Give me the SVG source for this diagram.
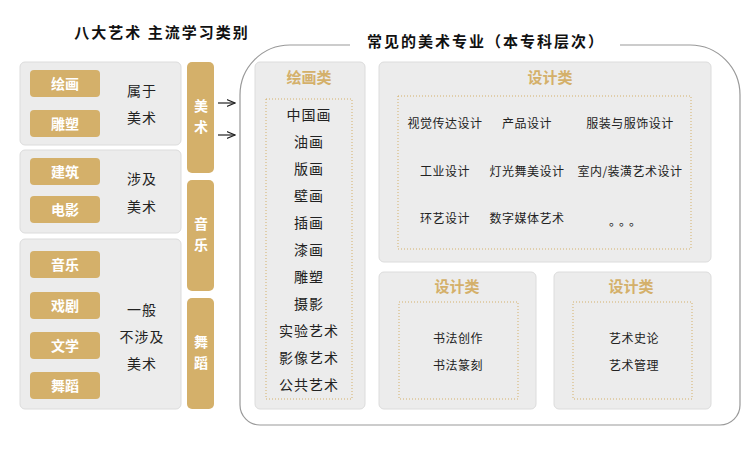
<svg xmlns="http://www.w3.org/2000/svg" width="750" height="450" viewBox="0 0 750 450">
<style>
text{font-family:"Noto Sans CJK SC","Noto Sans",sans-serif;text-anchor:middle}
.panel{fill:#ececec;stroke:#dcdcdc;stroke-width:1}
.gold{fill:#d4b06a}
.w{fill:#fff;font-size:14px;font-weight:bold}
.b{fill:#222;font-size:14px;letter-spacing:1px}
.s{fill:#222;font-size:12px;letter-spacing:0.5px}
.h{fill:#d4b06a;font-size:15px;font-weight:bold}
.t{fill:#111;font-size:15px;font-weight:bold;letter-spacing:2px}
.dot{fill:none;stroke:#d4b06a;stroke-width:1;stroke-dasharray:1,2}
</style>
<defs><marker id="ar" markerWidth="8" markerHeight="8" refX="7" refY="4" orient="auto"><path d="M0,1 L7,4 L0,7" fill="none" stroke="#222" stroke-width="1"/></marker></defs>
<text class="t" x="162" y="38">八大艺术  主流学习类别</text>
<text class="t" x="486" y="47">常见的美术专业（本专科层次）</text>
<g id="g1"><rect class="panel" x="20" y="62" width="161" height="83" rx="5"/>
<rect class="gold" x="30" y="70" width="70" height="27" rx="4"/><text class="w" x="65" y="89">绘画</text>
<rect class="gold" x="30" y="110" width="70" height="27" rx="4"/><text class="w" x="65" y="129">雕塑</text>
<text class="b" x="142" y="96">属于</text><text class="b" x="142" y="123">美术</text></g>
<g id="g2"><rect class="panel" x="20" y="150" width="161" height="83" rx="5"/>
<rect class="gold" x="30" y="158" width="70" height="27" rx="4"/><text class="w" x="65" y="177">建筑</text>
<rect class="gold" x="30" y="196" width="70" height="27" rx="4"/><text class="w" x="65" y="215">电影</text>
<text class="b" x="142" y="184">涉及</text><text class="b" x="142" y="212">美术</text></g>
<g id="g3"><rect class="panel" x="20" y="239" width="161" height="170" rx="5"/>
<rect class="gold" x="30" y="251" width="70" height="27" rx="4"/><text class="w" x="65" y="270">音乐</text>
<rect class="gold" x="30" y="292" width="70" height="27" rx="4"/><text class="w" x="65" y="311">戏剧</text>
<rect class="gold" x="30" y="332" width="70" height="27" rx="4"/><text class="w" x="65" y="351">文学</text>
<rect class="gold" x="30" y="372" width="70" height="27" rx="4"/><text class="w" x="65" y="391">舞蹈</text>
<text class="b" x="142" y="315">一般</text><text class="b" x="142" y="342">不涉及</text><text class="b" x="142" y="369">美术</text></g>
<g id="v1"><rect class="gold" x="187" y="62" width="27" height="111" rx="5"/><text class="w" x="201" y="111">美</text><text class="w" x="201" y="132">术</text></g>
<g id="v2"><rect class="gold" x="187" y="180" width="27" height="111" rx="5"/><text class="w" x="201" y="229">音</text><text class="w" x="201" y="250">乐</text></g>
<g id="v3"><rect class="gold" x="187" y="298" width="27" height="111" rx="5"/><text class="w" x="201" y="347">舞</text><text class="w" x="201" y="368">蹈</text></g>
<g id="connectors" stroke="#222" stroke-width="1.2">
<line x1="218" y1="103" x2="235" y2="103" marker-end="url(#ar)"/>
<line x1="218" y1="135" x2="235" y2="135" marker-end="url(#ar)"/>
</g>
<path d="M350,45 H290 A50,50 0 0 0 240,95 V405 A20,20 0 0 0 260,425 H720 A20,20 0 0 0 740,405 V95 A50,50 0 0 0 690,45 H620" fill="none" stroke="#999" stroke-width="1.2"/>
<g id="paint"><rect class="panel" x="255" y="62" width="110" height="347" rx="5"/>
<text class="h" x="309" y="83">绘画类</text>
<rect class="dot" x="266" y="99" width="86" height="300"/>
<text class="b" x="309" y="120">中国画</text><text class="b" x="309" y="147">油画</text><text class="b" x="309" y="174">版画</text><text class="b" x="309" y="201">壁画</text><text class="b" x="309" y="228">插画</text><text class="b" x="309" y="255">漆画</text><text class="b" x="309" y="282">雕塑</text><text class="b" x="309" y="309">摄影</text><text class="b" x="309" y="336">实验艺术</text><text class="b" x="309" y="363">影像艺术</text><text class="b" x="309" y="390">公共艺术</text></g>
<g id="design"><rect class="panel" x="379" y="62" width="332" height="200" rx="5"/>
<text class="h" x="550" y="83">设计类</text>
<rect class="dot" x="398" y="96" width="293" height="153"/>
<text class="s" x="445" y="128">视觉传达设计</text><text class="s" x="527" y="128">产品设计</text><text class="s" x="630" y="128">服装与服饰设计</text>
<text class="s" x="445" y="176">工业设计</text><text class="s" x="527" y="176">灯光舞美设计</text><text class="s" x="630" y="176">室内/装潢艺术设计</text>
<text class="s" x="445" y="223">环艺设计</text><text class="s" x="527" y="223">数字媒体艺术</text><text class="s" x="627" y="226" style="letter-spacing:4px">。。。</text></g>
<g id="design2"><rect class="panel" x="379" y="272" width="157" height="137" rx="5"/>
<text class="h" x="457" y="292">设计类</text>
<rect class="dot" x="399" y="302" width="119" height="97"/>
<text class="s" x="458" y="343">书法创作</text><text class="s" x="458" y="370">书法篆刻</text></g>
<g id="design3"><rect class="panel" x="554" y="272" width="157" height="137" rx="5"/>
<text class="h" x="631" y="292">设计类</text>
<rect class="dot" x="573" y="302" width="119" height="97"/>
<text class="s" x="634" y="343">艺术史论</text><text class="s" x="634" y="370">艺术管理</text></g>
</svg>
